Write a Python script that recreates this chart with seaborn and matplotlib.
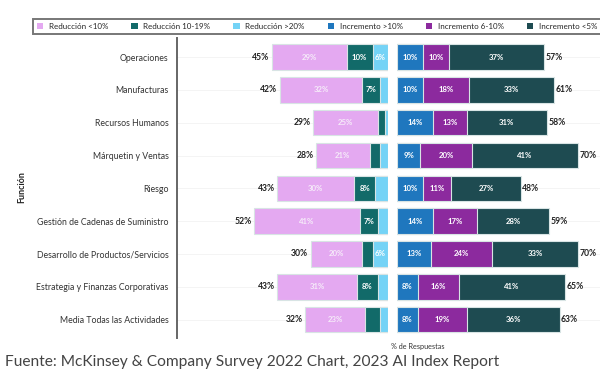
import matplotlib
matplotlib.use("Agg")
import matplotlib.pyplot as plt
from matplotlib.patches import Patch
import seaborn as sns
import pandas as pd
import numpy as np

funciones = [
    "Operaciones",
    "Manufacturas",
    "Recursos Humanos",
    "Márquetin y Ventas",
    "Riesgo",
    "Gestión de Cadenas de Suministro",
    "Desarrollo de Productos/Servicios",
    "Estrategia y Finanzas Corporativas",
    "Media Todas las Actividades",
]

# Reducción de costes (% de respuestas)
red_lt10 = [29, 32, 25, 21, 30, 41, 20, 31, 23]
red_10_19 = [10, 7, 3, 4, 8, 7, 4, 8, 6]
red_gt20 = [6, 3, 1, 3, 5, 4, 6, 4, 3]

# Incremento de ingresos (% de respuestas)
inc_gt10 = [10, 10, 14, 9, 10, 14, 13, 8, 8]
inc_6_10 = [10, 18, 13, 20, 11, 17, 24, 16, 19]
inc_lt5 = [37, 33, 31, 41, 27, 28, 33, 41, 36]

series_names = ["Reducción <10%", "Reducción 10-19%", "Reducción >20%",
                "Incremento >10%", "Incremento 6-10%", "Incremento <5%"]
colors = {
    "Reducción <10%": "#e4a9f1",
    "Reducción 10-19%": "#126a69",
    "Reducción >20%": "#74d3f6",
    "Incremento >10%": "#1f77be",
    "Incremento 6-10%": "#8c2a9e",
    "Incremento <5%": "#1e4b51",
}

sns.set_theme(style="white")
plt.rcParams["font.family"] = ["Lato", "DejaVu Sans"]

fig = plt.figure(figsize=(6.0, 3.69), dpi=100)
W, H = 600, 369


def px_axes(x0, y0, x1, y1):
    return fig.add_axes([x0 / W, 1 - y1 / H, (x1 - x0) / W, (y1 - y0) / H])


ax_l = px_axes(177, 38, 388, 338)
ax_r = px_axes(397, 38, 600, 338)

scale = 2.58  # pixels per percentage point
ylim = (8.56, -0.58)

edge = "#d8e4e4"


def stacked(ax, parts, names, min_label):
    # parts are ordered from the centre outwards; draw cumulative bars
    cum = np.cumsum(np.array(parts), axis=0)
    for i in range(len(parts) - 1, -1, -1):
        df = pd.DataFrame({"Función": funciones, "v": cum[i]})
        sns.barplot(data=df, x="v", y="Función", orient="h", ax=ax,
                    color=colors[names[i]], width=0.78, edgecolor=edge,
                    linewidth=0.8, saturation=1)
    for i, vals in enumerate(parts):
        start = cum[i] - np.array(vals)
        for j, v in enumerate(vals):
            if v >= min_label.get(names[i], 6):
                tcol = "#f6ecf9" if names[i] == "Reducción <10%" else "white"
                ax.text(start[j] + v / 2, j, f"{v}%", ha="center", va="center",
                        fontsize=5.6, color=tcol, fontweight="bold")
    totals = cum[-1]
    return totals


tot_l = stacked(ax_l, [red_gt20, red_10_19, red_lt10],
                ["Reducción >20%", "Reducción 10-19%", "Reducción <10%"],
                {"Reducción 10-19%": 7})
tot_r = stacked(ax_r, [inc_gt10, inc_6_10, inc_lt5],
                ["Incremento >10%", "Incremento 6-10%", "Incremento <5%"], {})

for j, t in enumerate(tot_l):
    ax_l.text(t + 0.9, j, f"{t}%", ha="right", va="center", fontsize=6.2,
              fontweight="bold", color="#222222")
for j, t in enumerate(tot_r):
    ax_r.text(t + 0.6, j, f"{t}%", ha="left", va="center", fontsize=6.2,
              fontweight="bold", color="#222222")

ax_l.set_xlim(211 / scale, 0)
ax_r.set_xlim(0, 203 / scale)
for ax in (ax_l, ax_r):
    ax.set_ylim(*ylim)
    ax.set_xlabel("")
    ax.set_ylabel("")
    ax.set_xticks([])
    for s in ("top", "right", "bottom", "left"):
        ax.spines[s].set_visible(False)
    for j in range(len(funciones)):
        ax.axhline(j, color="#f3f3f3", lw=0.6, zorder=0)
    ax.set_axisbelow(True)

ax_r.set_yticks([])
ax_l.spines["left"].set_visible(True)
ax_l.spines["left"].set_color("#666666")
ax_l.spines["left"].set_linewidth(1.4)
ax_l.tick_params(axis="y", length=0, pad=6, labelsize=6.3, labelcolor="#333333")

fig.text(22 / W, 1 - 187 / H, "Función", rotation=90, ha="center", va="center",
         fontsize=6.5, fontweight="bold", color="#222222")
fig.text(418 / W, 1 - 347 / H, "% de Respuestas", ha="center", va="center",
         fontsize=5.2, color="#333333")
fig.text(5 / W, 1 - 362 / H,
         "Fuente: McKinsey & Company Survey 2022 Chart, 2023 AI Index Report",
         ha="left", va="center", fontsize=11.2, color="#444444")

handles = [Patch(facecolor=colors[n], edgecolor="none", label=n) for n in series_names]
leg = fig.legend(handles=handles, loc="lower left", ncol=6, mode="expand",
                 bbox_to_anchor=(33 / W, 1 - 34 / H, 568 / W, 23 / H),
                 fontsize=5.8, frameon=True, fancybox=False,
                 handlelength=0.8, handleheight=0.8, handletextpad=0.7,
                 borderaxespad=0, borderpad=0.5, columnspacing=1.0)
leg.get_frame().set_edgecolor("#555555")
leg.get_frame().set_linewidth(1.4)

fig.savefig("out.png", dpi=100, facecolor="white")
